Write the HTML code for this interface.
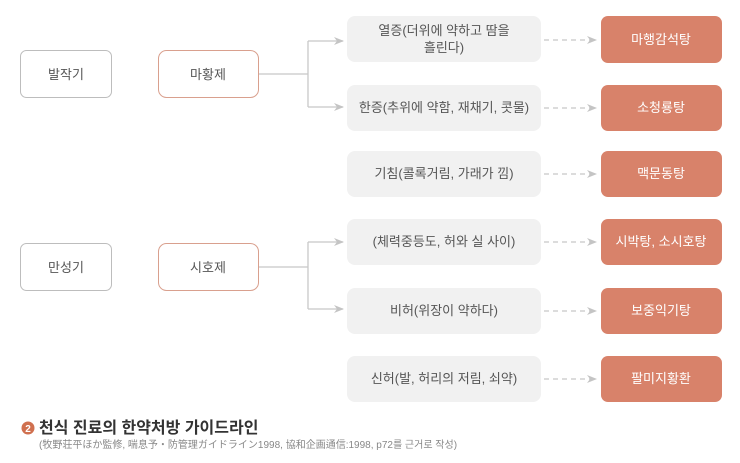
<!DOCTYPE html>
<html><head><meta charset="utf-8"><style>
body{margin:0;background:#fff;width:740px;height:458px;overflow:hidden}
svg text{font-family:"Liberation Sans","Noto Sans CJK KR",sans-serif}
</style></head><body>
<svg width="740" height="458" viewBox="0 0 740 458" xmlns="http://www.w3.org/2000/svg">
<defs>
<marker id="a" markerWidth="10" markerHeight="8" refX="9" refY="4" orient="auto" markerUnits="userSpaceOnUse"><path d="M0,0 L10,4 L0,8 L3,4 Z" fill="#c4c4c4"/></marker>
</defs>
<g font-size="13" fill="#555" text-anchor="middle">
<rect x="20.5" y="50.5" width="91" height="47" rx="6" fill="#fff" stroke="#bdbdbd"/>
<text x="66" y="79">발작기</text>
<rect x="158.5" y="50.5" width="100" height="47" rx="8" fill="#fff" stroke="#d9a08e"/>
<text x="208" y="79">마황제</text>
<rect x="20.5" y="243.5" width="91" height="47" rx="6" fill="#fff" stroke="#bdbdbd"/>
<text x="66" y="272">만성기</text>
<rect x="158.5" y="243.5" width="100" height="47" rx="8" fill="#fff" stroke="#d9a08e"/>
<text x="208" y="272">시호제</text>
</g>
<g stroke="#c8c8c8" stroke-width="1.3" fill="none">
<path d="M259,74 H308 M308,41 V107" />
<path d="M259,267 H308 M308,242 V309"/>
<path d="M308,41 H343" marker-end="url(#a)"/>
<path d="M308,107 H343" marker-end="url(#a)"/>
<path d="M308,242 H343" marker-end="url(#a)"/>
<path d="M308,309 H343" marker-end="url(#a)"/>
<g stroke-dasharray="5,4">
<path d="M544,40 H596" marker-end="url(#a)"/>
<path d="M544,108 H596" marker-end="url(#a)"/>
<path d="M544,174 H596" marker-end="url(#a)"/>
<path d="M544,242 H596" marker-end="url(#a)"/>
<path d="M544,311 H596" marker-end="url(#a)"/>
<path d="M544,379 H596" marker-end="url(#a)"/>
</g>
</g>
<g fill="#f1f1f1">
<rect x="347" y="16" width="194" height="46" rx="8"/>
<rect x="347" y="85" width="194" height="46" rx="8"/>
<rect x="347" y="151" width="194" height="46" rx="8"/>
<rect x="347" y="219" width="194" height="46" rx="8"/>
<rect x="347" y="288" width="194" height="46" rx="8"/>
<rect x="347" y="356" width="194" height="46" rx="8"/>
</g>
<g fill="#d8826a">
<rect x="601" y="16" width="121" height="47" rx="7"/>
<rect x="601" y="85" width="121" height="46" rx="7"/>
<rect x="601" y="151" width="121" height="46" rx="7"/>
<rect x="601" y="219" width="121" height="46" rx="7"/>
<rect x="601" y="288" width="121" height="46" rx="7"/>
<rect x="601" y="356" width="121" height="46" rx="7"/>
</g>
<g font-size="13" fill="#555" text-anchor="middle">
<text x="444" y="35">열증(더위에 약하고 땀을</text>
<text x="444" y="52">흘린다)</text>
<text x="444" y="112">한증(추위에 약함, 재채기, 콧물)</text>
<text x="444" y="178">기침(콜록거림, 가래가 낌)</text>
<text x="444" y="246">(체력중등도, 허와 실 사이)</text>
<text x="444" y="315">비허(위장이 약하다)</text>
<text x="444" y="383">신허(발, 허리의 저림, 쇠약)</text>
</g>
<g font-size="13" fill="#fff" text-anchor="middle">
<text x="661" y="44">마행감석탕</text>
<text x="661" y="112">소청룡탕</text>
<text x="661" y="178">맥문동탕</text>
<text x="661" y="246">시박탕, 소시호탕</text>
<text x="661" y="315">보중익기탕</text>
<text x="661" y="383">팔미지황환</text>
</g>
<circle cx="28" cy="428" r="6.5" fill="#d0704f"/>
<text x="28" y="432" font-size="10" fill="#fff" text-anchor="middle" font-weight="bold">2</text>
<text x="39" y="433" font-size="16" fill="#333" font-weight="bold">천식 진료의 한약처방 가이드라인</text>
<text x="39" y="448" font-size="10" fill="#888">(牧野荘平ほか監修, 喘息予・防管理ガイドライン1998, 協和企画通信:1998, p72를 근거로 작성)</text>
</svg>
</body></html>
